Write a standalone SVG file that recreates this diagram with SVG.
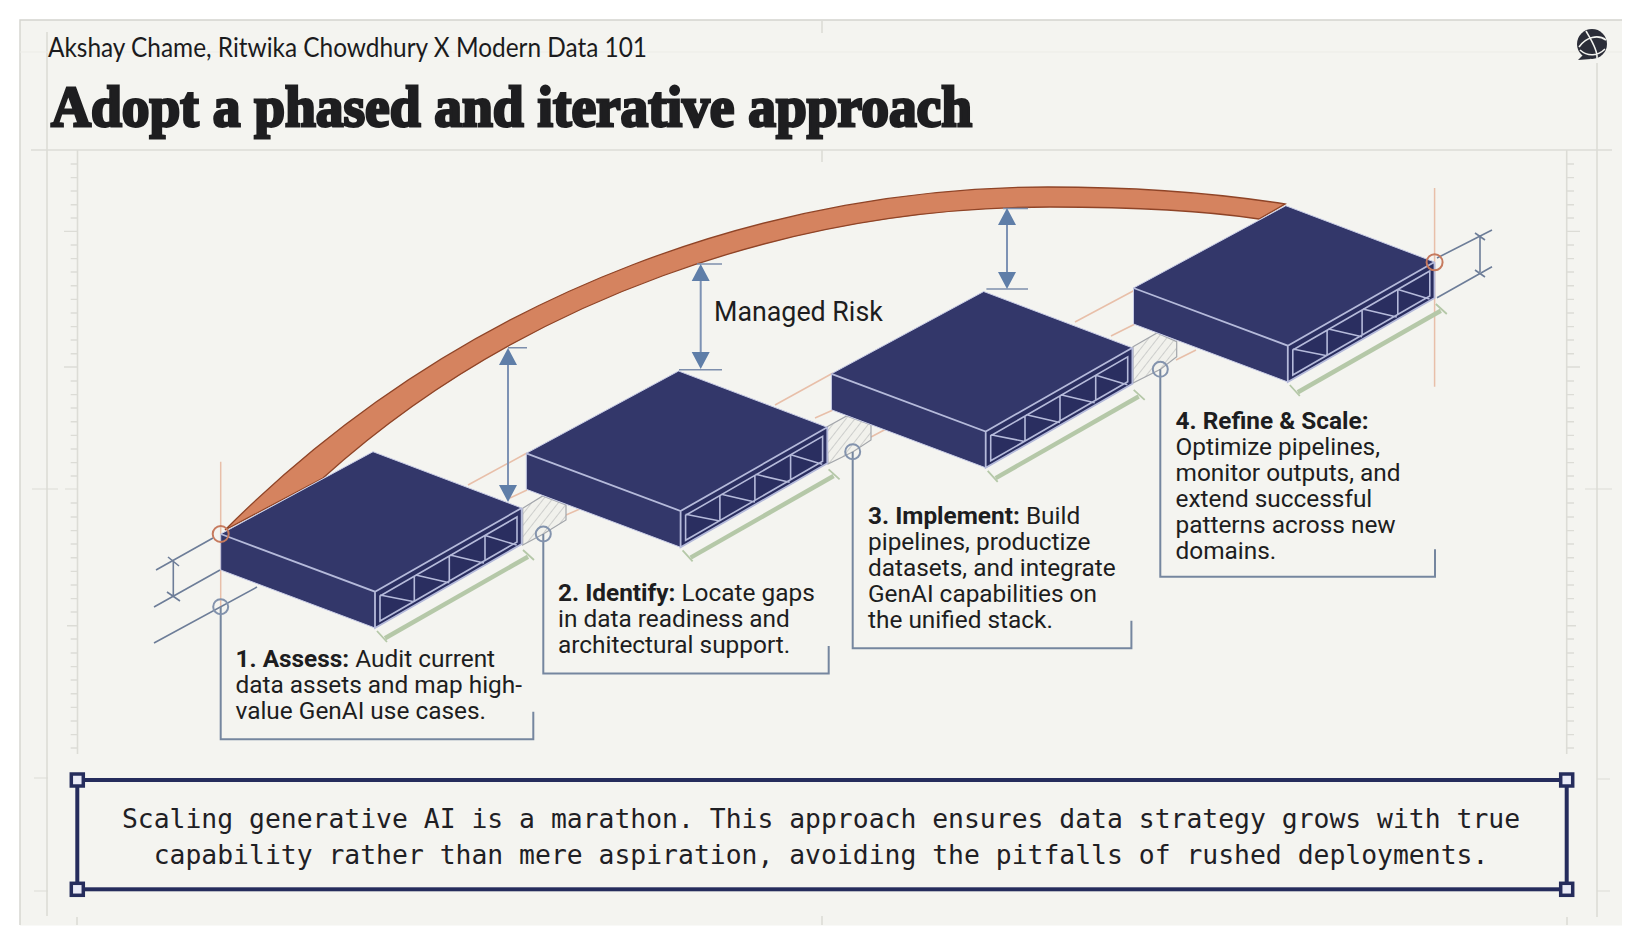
<svg xmlns="http://www.w3.org/2000/svg" width="1642" height="945" viewBox="0 0 1642 945">
<style>
.grid{stroke:#dcdcd6;stroke-width:1.6;fill:none}
.tick{stroke:#dcdcd6;stroke-width:1.4;fill:none}
.dim{stroke:#6d7d98;stroke-width:1.6;fill:none}
.lead{stroke:#75869f;stroke-width:2;fill:none}
.ring{stroke:#8393ad;stroke-width:2;fill:none}
.oring{stroke:#c67a5e;stroke-width:2;fill:none}
.cl{stroke:#e8bfa9;stroke-width:1.5;fill:none}
.arr{stroke:#7d92b4;stroke-width:2;fill:none}
.head{fill:#5f7ea8}
.hatch{fill:url(#hp);stroke:#a3a6ab;stroke-width:1.2}
.body{font-family:Roboto,"Liberation Sans",sans-serif;font-size:24.4px;fill:#1d1d20}
.body tspan.b{font-weight:700}
.hd{fill:#e9eaf6;stroke:#252c5c;stroke-width:3.5}
.mono{font-family:"DejaVu Sans Mono",monospace;font-size:26.4px;fill:#1f2024;text-anchor:middle}
</style>
<defs>
<pattern id="hp" width="7" height="7" patternUnits="userSpaceOnUse" patternTransform="rotate(38)">
<rect width="7" height="7" fill="#f1f1ec"/><line x1="0" y1="0" x2="0" y2="7" stroke="#a9abad" stroke-width="1"/>
</pattern>
<g id="slab">
<polygon points="220.7,534 373,451.7 521.7,508 521.7,544 375,628 220.7,570" fill="#33376a" stroke="#c9cde6" stroke-width="1"/>
<polygon points="375,591.7 521.7,508 521.7,544 375,628" fill="#2a2e60"/>
<path d="M220.7,534L375,591.7L521.7,508M375,591.7V628L521.7,544V508" fill="none" stroke="#b5bada" stroke-width="1.8"/>
<path d="M380,596L517,517V542L380,621ZM414.3,575.7V601.7M449.3,556V580.7M485,536V560.7M380,595L414.3,601.7M415.7,575L449.3,582.7M450,555L484,563M486,535.7L516.7,545" fill="none" stroke="#b5bada" stroke-width="1.6"/>
<path d="M385,638.3L528,556.7" stroke="#b5c8a8" stroke-width="4.5" fill="none"/>
<path d="M377,631L387,642M523,550L534,560" stroke="#b5c8a8" stroke-width="1.8" fill="none"/>
</g>
</defs>
<rect width="1642" height="945" fill="#ffffff"/>
<rect x="20" y="20" width="1602" height="905.5" fill="#f4f4f0"/>
<path d="M20,925V20H1622" fill="none" stroke="#d4d4ce" stroke-width="1.4"/>
<g id="grid">
<path class="grid" d="M31,150H1612M47,32V916M1597,63V917M77.5,150V754M1566.7,150V754M822,21V33M822,150V162M822,916V925M77,917V925M1567,917V925"/>
<path class="grid" d="M32,489H58M65,489H78M1585,489H1612M34,778H48M34,891H48M1597,779H1610M1597,891H1610" style="stroke-width:1.2"/>
<path class="grid" d="M20,52H1622" style="stroke:#ecece7;stroke-width:1"/>
<path class="tick" d="M70.7,164H77.5M70.7,177.6H77.5M70.7,191H77.5M70.7,204.8H77.5M70.7,218H77.5M64,231.4H77.5M70.7,245H77.5M70.7,258.6H77.5M70.7,272H77.5M70.7,285.8H77.5M70.7,299.4H77.5M70.7,313H77.5M70.7,326.6H77.5M70.7,340H77.5M70.7,353.8H77.5M64,367H77.5M70.7,381H77.5M70.7,394.6H77.5M70.7,408H77.5M70.7,421.8H77.5M70.7,435.4H77.5M70.7,449H77.5M70.7,462.6H77.5M70.7,476H77.5M70.7,503H77.5M70.7,517H77.5M70.7,530.6H77.5M70.7,544H77.5M70.7,557.8H77.5M70.7,571.4H77.5M70.7,585H77.5M70.7,598.6H77.5M70.7,612H77.5M67,625.7H77.5M70.7,639H77.5M70.7,653H77.5M70.7,666.6H77.5M70.7,680H77.5M70.7,693.8H77.5M70.7,707.4H77.5M70.7,721H77.5M70.7,734.6H77.5M70.7,748H77.5"/>
<path class="tick" d="M1566.7,164H1574M1566.7,177.6H1574M1566.7,191H1574M1566.7,204.8H1574M1566.7,218H1574M1566.7,231.4H1580M1566.7,245H1574M1566.7,258.6H1574M1566.7,272H1574M1566.7,285.8H1574M1566.7,299.4H1574M1566.7,313H1574M1566.7,326.6H1574M1566.7,340H1574M1566.7,353.8H1574M1566.7,367H1580M1566.7,381H1574M1566.7,394.6H1574M1566.7,408H1574M1566.7,421.8H1574M1566.7,435.4H1574M1566.7,449H1574M1566.7,462.6H1574M1566.7,476H1574M1566.7,489H1574M1566.7,503H1574M1566.7,517H1574M1566.7,530.6H1574M1566.7,544H1574M1566.7,557.8H1574M1566.7,571.4H1574M1566.7,585H1574M1566.7,598.6H1574M1566.7,612H1574M1566.7,625.7H1576M1566.7,639H1574M1566.7,653H1574M1566.7,666.6H1574M1566.7,680H1574M1566.7,693.8H1574M1566.7,707.4H1574M1566.7,721H1574M1566.7,734.6H1574M1566.7,748H1574"/>
</g>
<g id="header">
<text x="48" y="57" font-family="Lato,'Liberation Sans',sans-serif" font-size="26" fill="#1b1b1d" textLength="599" lengthAdjust="spacingAndGlyphs">Akshay Chame, Ritwika Chowdhury X Modern Data 101</text>
<text x="51" y="126" font-family="'Liberation Serif',serif" font-weight="700" font-size="58" fill="#1e1e20" stroke="#1e1e20" stroke-width="2.8" textLength="921" lengthAdjust="spacingAndGlyphs">Adopt a phased and iterative approach</text>
</g>
<g id="logo">
<path d="M1584,54L1578,60L1591,59Z" fill="#2b2d38"/>
<circle cx="1592" cy="44" r="15" fill="#2b2d38"/>
<path d="M1579,47C1586,37 1598,34 1606,40M1580,50C1588,57 1598,56 1605,49M1586,31C1590,38 1598,50 1597,58" fill="none" stroke="#f4f4f0" stroke-width="1.6"/>
</g>
<g id="connectors">
<g id="centerlines">
<path class="cl" d="M468,485L527,453M510,498L527,490M566,515L582,508M775,405L833,373M815,418L833,410M871,437L888,428M1075,322L1135,290M1111,336L1135,324M1176,360L1196,350"/>
<path class="cl" d="M220.7,461.7V607M1434.6,188V386.7"/>
</g>
<g id="dims">
<path class="dim" d="M156,570L213,538M154,607L220,570M154,643L257,587M173.3,561.7V596.7M168,557L179,566M167,592L180,601"/>
<path class="dim" d="M1437,258L1492,230M1437,297.7L1492,266.7M1480,237V272M1475,233L1485,240M1475,270L1485,277"/>
</g>
<path id="arc" d="M225,530C475,280 788,187 1048,187C1130,187 1215,193 1285,204L1259,219C1200,210 1130,207 1050,207C790,207 520,300 323,478Z" fill="#d5835f" stroke="#8f4427" stroke-width="1.3"/>
<polygon class="hatch" points="522.7,508.3 542.7,496 566,505 566,520 543.3,534 522.7,545"/>
<polygon class="hatch" points="826.7,427 846.7,416 871,425 871,440 853,451.7 828,464"/>
<polygon class="hatch" points="1133,346.7 1157,333 1176.7,341.7 1176.7,356.7 1160.5,369.3 1133,383"/>
</g>
<g id="step1"><use href="#slab"/></g>
<g id="step2"><use href="#slab" transform="translate(305.6,-80.7)"/></g>
<g id="step3"><use href="#slab" transform="translate(610.7,-160.2)"/></g>
<g id="step4"><use href="#slab" transform="translate(912.8,-246)"/></g>
<g id="arrows">
<path class="arr" d="M508,360V490M700.7,276V357M1007,221V277"/>
<path class="dim" d="M508,347.7H527M697,264H722M679,369.7H722M1003,208.5H1028M986.4,289H1028" style="stroke:#7d8eac"/>
<path class="head" d="M508,348l9,17h-18zM508,502l9,-17h-18zM700.7,264l9,17h-18zM700.7,369l9,-17h-18zM1007,208l9,17h-18zM1007,289l9,-17h-18z"/>
</g>
<g id="leaders">
<path class="lead" d="M220.7,606.7V739.3H533.3V711.7"/>
<path class="lead" d="M543.3,534V673.5H828.7V646"/>
<path class="lead" d="M852.7,451.7V648.3H1131.4V620.7"/>
<path class="lead" d="M1160.3,369.3V576.7H1435V549.3"/>
<circle class="ring" cx="220.7" cy="606.7" r="7.5"/>
<circle class="ring" cx="543.3" cy="534" r="7.5"/>
<circle class="ring" cx="852.7" cy="451.7" r="7.5"/>
<circle class="ring" cx="1160.3" cy="369.3" r="7.5"/>
<circle class="oring" cx="220.7" cy="534" r="8"/>
<circle class="oring" cx="1434.6" cy="262.3" r="8"/>
</g>
<text id="risk" class="body" x="714" y="321" style="font-size:26.8px">Managed Risk</text>
<g id="label1"><text class="body" x="235.5" y="667"><tspan class="b">1. Assess:</tspan> Audit current</text>
<text class="body" x="235.5" y="693">data assets and map high-</text>
<text class="body" x="235.5" y="719">value GenAI use cases.</text></g>
<g id="label2"><text class="body" x="558" y="601"><tspan class="b">2. Identify:</tspan> Locate gaps</text>
<text class="body" x="558" y="627">in data readiness and</text>
<text class="body" x="558" y="653">architectural support.</text></g>
<g id="label3"><text class="body" x="868" y="524"><tspan class="b">3. Implement:</tspan> Build</text>
<text class="body" x="868" y="550">pipelines, productize</text>
<text class="body" x="868" y="576">datasets, and integrate</text>
<text class="body" x="868" y="602">GenAI capabilities on</text>
<text class="body" x="868" y="628">the unified stack.</text></g>
<g id="label4"><text class="body" x="1175.5" y="429"><tspan class="b">4. Refine &amp; Scale:</tspan></text>
<text class="body" x="1175.5" y="455">Optimize pipelines,</text>
<text class="body" x="1175.5" y="481">monitor outputs, and</text>
<text class="body" x="1175.5" y="507">extend successful</text>
<text class="body" x="1175.5" y="533">patterns across new</text>
<text class="body" x="1175.5" y="559">domains.</text></g>
<g id="callout">
<rect x="77.3" y="780" width="1489.4" height="109.3" fill="none" stroke="#252c5c" stroke-width="4"/>
<rect class="hd" x="71.3" y="774" width="12" height="12"/>
<rect class="hd" x="1560.7" y="774" width="12" height="12"/>
<rect class="hd" x="71.3" y="883.3" width="12" height="12"/>
<rect class="hd" x="1560.7" y="883.3" width="12" height="12"/>
<text class="mono" x="821" y="827.5">Scaling generative AI is a marathon. This approach ensures data strategy grows with true</text>
<text class="mono" x="821" y="864">capability rather than mere aspiration, avoiding the pitfalls of rushed deployments.</text>
</g>
</svg>
